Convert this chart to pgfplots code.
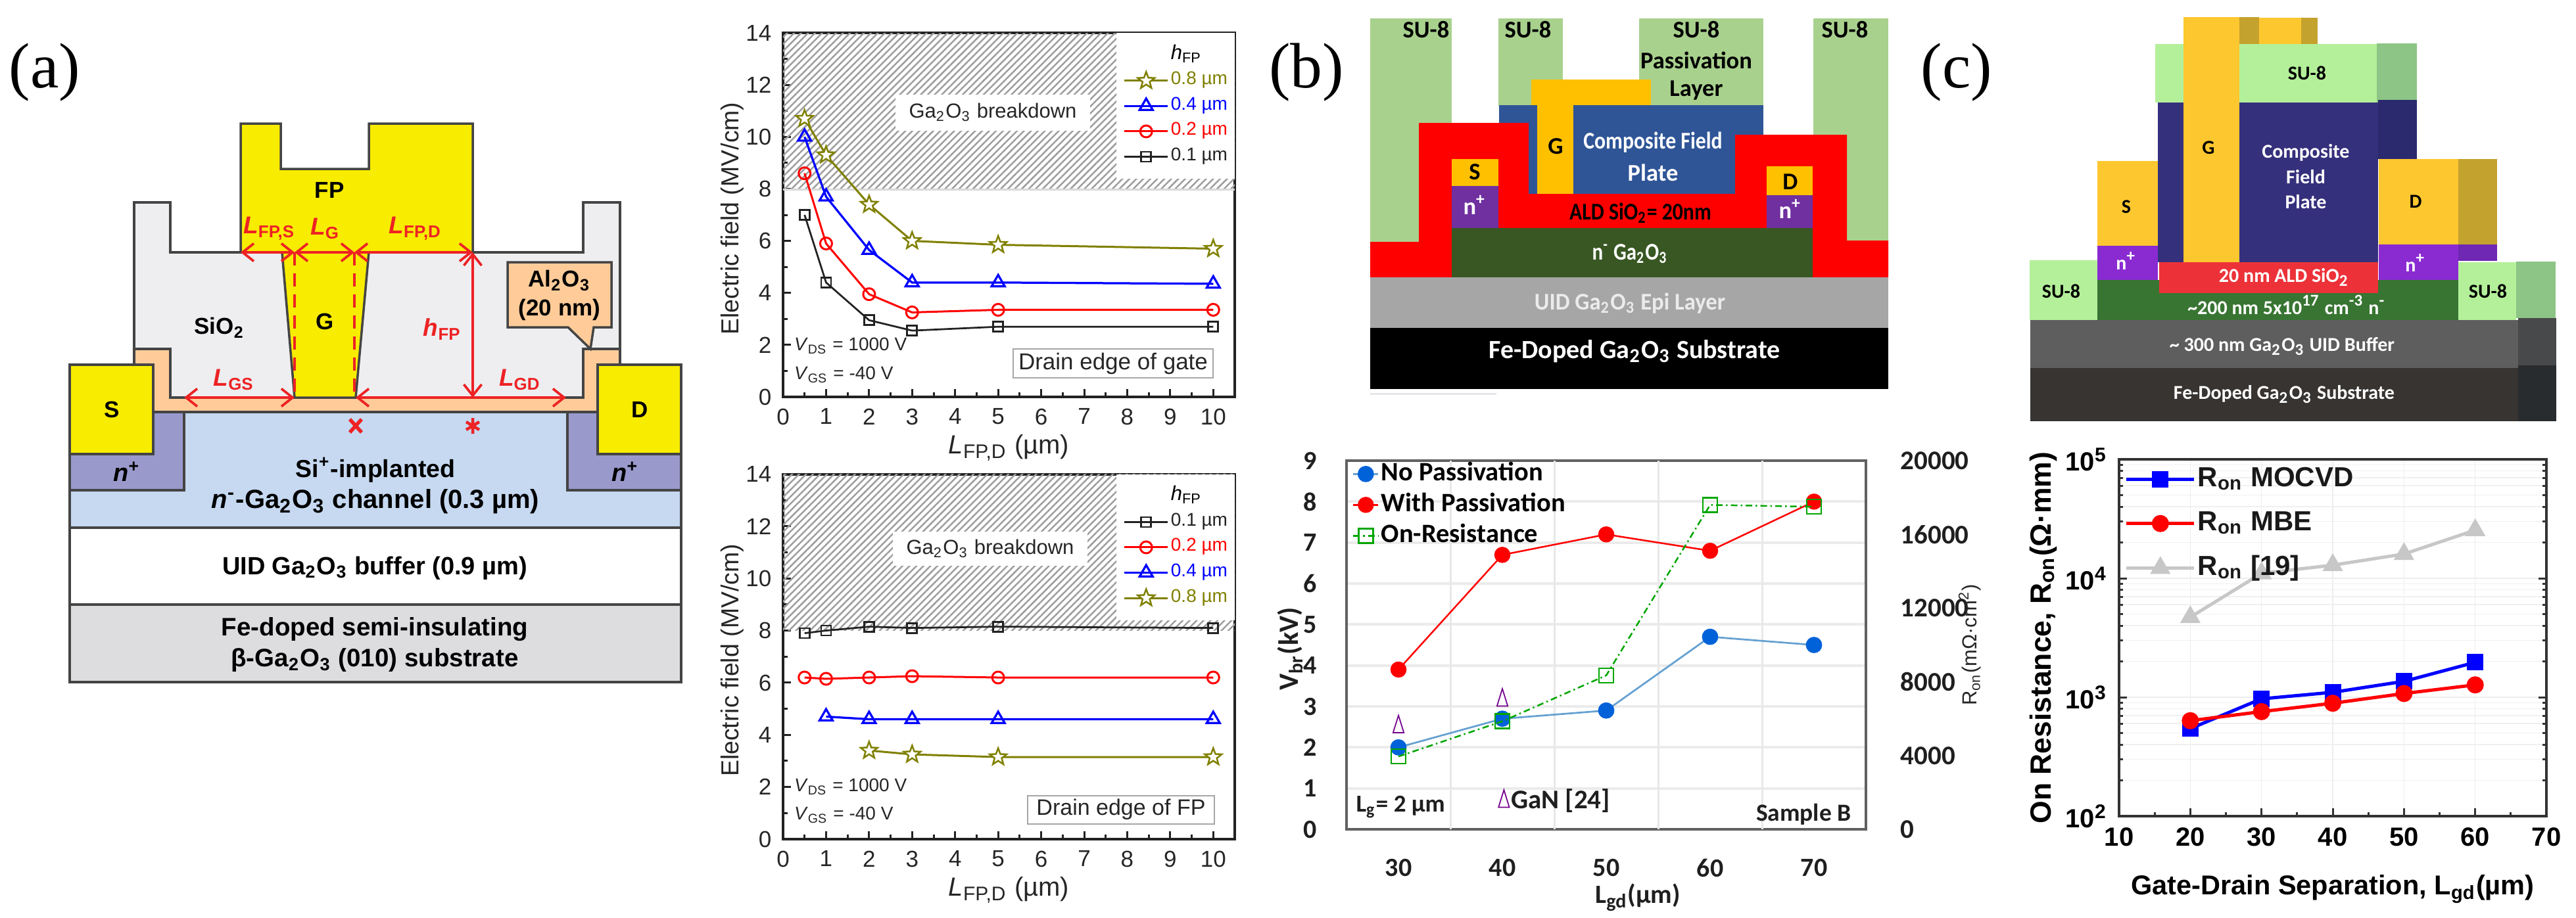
\documentclass[border=0pt]{standalone}
\usepackage{fontspec}
\usepackage{pgfplots}
\pgfplotsset{compat=1.18}
\usetikzlibrary{patterns.meta,arrows.meta}
\setmainfont{Liberation Sans}
\newfontfamily\calib{Carlito}
\newfontfamily\ser{Liberation Serif}
\newcommand\fs[1]{\fontsize{#1}{#1}\selectfont}
\newcommand\sub[1]{\textsubscript{#1}}
\newcommand\sups[1]{\textsuperscript{#1}}
\definecolor{colOl}{HTML}{808000}
\definecolor{colBl}{HTML}{0000FF}
\definecolor{colRd}{HTML}{FF0000}
\definecolor{colKk}{HTML}{222222}
\definecolor{arrRd}{HTML}{ED2224}
\definecolor{frm}{HTML}{444444}
\pgfdeclareplotmark{ostar}{%
  \pgfpathmoveto{\pgfpointpolar{90}{\pgfplotmarksize}}%
  \pgfpathlineto{\pgfpointpolar{126}{.42\pgfplotmarksize}}%
  \pgfpathlineto{\pgfpointpolar{162}{\pgfplotmarksize}}%
  \pgfpathlineto{\pgfpointpolar{198}{.42\pgfplotmarksize}}%
  \pgfpathlineto{\pgfpointpolar{234}{\pgfplotmarksize}}%
  \pgfpathlineto{\pgfpointpolar{270}{.42\pgfplotmarksize}}%
  \pgfpathlineto{\pgfpointpolar{306}{\pgfplotmarksize}}%
  \pgfpathlineto{\pgfpointpolar{342}{.42\pgfplotmarksize}}%
  \pgfpathlineto{\pgfpointpolar{18}{\pgfplotmarksize}}%
  \pgfpathlineto{\pgfpointpolar{54}{.42\pgfplotmarksize}}%
  \pgfpathclose\pgfusepathqfillstroke}
\pgfplotsset{
  /pgf/number format/assume math mode=true,
  fieldaxis/.style={
    scale only axis, axis line style={line width=.8pt,color=colKk},
    xmin=0,xmax=10.5,ymin=0,ymax=14,
    xtick={0,...,10},ytick={0,2,...,14},minor x tick num=1,minor y tick num=1,
    xtick pos=bottom,ytick pos=left,tick align=inside,
    major tick length=2.4pt,minor tick length=1.4pt,
    every tick/.style={line width=.6pt,color=colKk},
    tick label style={font=\fs{7},color=black!85},
    ylabel style={at={(axis description cs:-0.112,0.49)},anchor=center,font=\fs{7.5},color=black!85},
    xlabel style={at={(axis description cs:0.5,-0.14)},anchor=center,font=\fs{8},color=black!85},
    xlabel={\textit{L}\sub{FP,D} (µm)},ylabel={Electric field (MV/cm)},
    clip=false,
    legend cell align=left,
    legend style={draw=none,fill=none,at={(axis description cs:0.752,0.975)},anchor=north west,inner sep=0pt,font=\fs{5.6},row sep=1.1pt,nodes={inner sep=.6pt}},
    legend image code/.code={\draw[mark repeat=2,mark phase=2,##1] plot coordinates {(0pt,0pt)(6.6pt,0pt)(13.2pt,0pt)};},
  },
  s1/.style={color=colKk,line width=.55pt,mark=square,mark size=1.5pt,mark options={fill=white,solid}},
  s2/.style={color=colRd,line width=.6pt,mark=o,mark size=1.8pt,mark options={fill=white,solid}},
  s4/.style={color=colBl,line width=.65pt,mark=triangle,mark size=2.3pt,mark options={fill=white,solid}},
  s8/.style={color=colOl,line width=.6pt,mark=ostar,mark size=2.7pt,mark options={fill=white,solid,line width=.5pt}},
}
\begin{document}
\begin{tikzpicture}
\path[use as bounding box] (0,0) rectangle (783.6pt,-279.2pt);
\begin{scope}[x=0.2pt,y=-0.2pt]
% ---- panel labels
\node[font=\ser\fs{19.5},anchor=center] at (68,110) {(a)};
\node[font=\ser\fs{19.5},anchor=center] at (1987,110) {(b)};
\node[font=\ser\fs{19.5},anchor=center] at (2976,110) {(c)};
% ---- panel a schematic
\begin{scope}[line width=.7pt,draw=frm,font=\fs{7}\bfseries,color=black]
\filldraw[fill=white,draw=frm] (106,803) rectangle (1036,920);
\filldraw[fill={rgb,255:red,221;green,221;blue,224},draw=frm,line width=.9pt] (106,920) rectangle (1036,1038);
\filldraw[fill={rgb,255:red,198;green,217;blue,241},draw=frm] (106,627) rectangle (1036,803);
\filldraw[fill={rgb,255:red,153;green,153;blue,204},draw=frm] (106,627) -- (280,627) -- (280,746) -- (106,746) -- cycle;
\filldraw[fill={rgb,255:red,153;green,153;blue,204},draw=frm] (863,627) -- (1036,627) -- (1036,746) -- (863,746) -- cycle;
\filldraw[fill={rgb,255:red,238;green,238;blue,240},draw=frm] (204,605) -- (204,308) -- (259,308) -- (259,384) -- (887,384) -- (887,308) -- (943,308) -- (943,605) -- cycle;
\filldraw[fill={rgb,255:red,255;green,204;blue,153},draw=frm] (204,555) -- (204,531) -- (259,531) -- (259,605) -- (887,605) -- (887,531) -- (943,531) -- (943,555) -- (909,555) -- (909,627) -- (233,627) -- (233,555) -- cycle;
\filldraw[fill={rgb,255:red,248;green,236;blue,0},draw=frm] (106,555) rectangle (233,691);
\filldraw[fill={rgb,255:red,248;green,236;blue,0},draw=frm] (909,555) rectangle (1036,691);
\filldraw[fill={rgb,255:red,248;green,236;blue,0},draw=frm] (366,188) -- (427,188) -- (427,257) -- (561,257) -- (561,188) -- (719,188) -- (719,384) -- (561,384) -- (541,605) -- (448,605) -- (429,384) -- (366,384) -- cycle;
\filldraw[fill={rgb,255:red,255;green,204;blue,153},draw=frm] (772,399) -- (930,399) -- (930,498) -- (903,498) -- (898,531) -- (864,498) -- (772,498) -- cycle;
\node at (501,289) {FP};
\node at (494,489) {G};
\node at (334,499) {SiO\sub{2}};
\node at (170,623) {S};
\node at (973,623) {D};
\node[font=\fs{7.6}\bfseries] at (193,718) {\textit{n}\sups{+}};
\node[font=\fs{7.6}\bfseries] at (951,718) {\textit{n}\sups{+}};
\node at (851,427) {Al\sub{2}O\sub{3}};
\node at (851,471) {(20 nm)};
\node[font=\fs{7.5}\bfseries] at (571,715) {Si\sups{+}-implanted};
\node[font=\fs{8}\bfseries] at (571,763) {\textit{n}\sups{-}-Ga\sub{2}O\sub{3} channel (0.3 µm)};
\node[font=\fs{7.6}\bfseries] at (570,865) {UID Ga\sub{2}O\sub{3} buffer (0.9 µm)};
\node[font=\fs{7.7}\bfseries] at (570,958) {Fe-doped semi-insulating};
\node[font=\fs{7.7}\bfseries] at (570,1005) {β-Ga\sub{2}O\sub{3} (010) substrate};
\end{scope}
\begin{scope}[arrRd,line width=.75pt,font=\fs{7.4}\bfseries,>={Straight Barb[length=3.4pt,width=5.4pt]}]
\draw[dashed,dash pattern=on 4pt off 2.4pt] (448,384) -- (448,605);
\draw[dashed,dash pattern=on 4pt off 2.4pt] (539,384) -- (539,605);
\draw[<->] (366,384) -- (448,384);
\draw[<->] (448,384) -- (539,384);
\draw[<->] (539,384) -- (719,384);
\draw[<->] (719,384) -- (719,605);
\draw[<->] (280,605) -- (448,605);
\draw[<->] (541,605) -- (861,605);
\node[anchor=center] at (410,348) {\textit{L}\sub{FP,S}};
\node at (495,348) {\textit{L}\sub{G}};
\node at (632,348) {\textit{L}\sub{FP,D}};
\node at (673,501) {\textit{h}\sub{FP}};
\node at (356,578) {\textit{L}\sub{GS}};
\node at (791,578) {\textit{L}\sub{GD}};
\draw[line width=1.1pt] (532,638)--(550,658) (550,638)--(532,658);
\draw[line width=.9pt] (719,636)--(719,660) (709,642)--(729,654) (729,642)--(709,654);
\end{scope}
% ---- panel b schematic
\begin{scope}[font=\calib\fs{7.3}\bfseries]
\fill[fill={rgb,255:red,169;green,209;blue,142}] (2084,28) rectangle (2208,368);
\fill[fill={rgb,255:red,169;green,209;blue,142}] (2279,28) rectangle (2377,161);
\fill[fill={rgb,255:red,169;green,209;blue,142}] (2493,28) rectangle (2682,161);
\fill[fill={rgb,255:red,169;green,209;blue,142}] (2758,28) rectangle (2872,368);
\fill[fill={rgb,255:red,47;green,85;blue,151}] (2280,160) rectangle (2682,295);
\fill[fill={rgb,255:red,255;green,192;blue,0}] (2329,121) rectangle (2511,160);
\fill[fill={rgb,255:red,255;green,192;blue,0}] (2338,160) rectangle (2393,295);
\fill[colRd] (2084,368) -- (2158,368) -- (2158,187) -- (2325,187) -- (2325,295) -- (2639,295) -- (2639,205) -- (2809,205) -- (2809,366) -- (2872,366) -- (2872,422) -- (2084,422) -- cycle;
\fill[fill={rgb,255:red,255;green,192;blue,0}] (2208,242) rectangle (2279,283);
\fill[fill={rgb,255:red,112;green,48;blue,160}] (2208,283) rectangle (2279,347);
\fill[fill={rgb,255:red,255;green,192;blue,0}] (2687,253) rectangle (2757,297);
\fill[fill={rgb,255:red,112;green,48;blue,160}] (2687,297) rectangle (2757,347);
\fill[fill={rgb,255:red,56;green,87;blue,35}] (2208,347) rectangle (2757,422);
\fill[fill={rgb,255:red,166;green,166;blue,166}] (2084,422) rectangle (2872,499);
\fill[black] (2084,499) rectangle (2872,592);
\fill[blue!10!gray!18] (2084,598) rectangle (2276,601);
\node at (2169,45) {SU-8};
\node at (2324,45) {SU-8};
\node at (2580,45) {SU-8};
\node at (2806,45) {SU-8};
\node at (2580,92) {Passivation};
\node at (2580,138) {Layer};
\node at (2366,223) {G};
\node[white,xscale=.87] at (2514,217) {Composite Field};
\node[white] at (2514,263) {Plate};
\node at (2243,262) {S};
\node at (2723,277) {D};
\node[white] at (2243,312) {n\sups{+}};
\node[white] at (2723,318) {n\sups{+}};
\node[xscale=.87] at (2495,324) {ALD SiO\sub{2}= 20nm};
\node[white,xscale=.85] at (2479,386) {n\sups{-} Ga\sub{2}O\sub{3}};
\node[white!92!black,xscale=.95] at (2479,462) {UID Ga\sub{2}O\sub{3} Epi Layer};
\node[white,font=\calib\fs{8}\bfseries] at (2486,535) {Fe-Doped Ga\sub{2}O\sub{3} Substrate};
\end{scope}
% ---- panel c schematic
\begin{scope}[font=\calib\fs{6}\bfseries]
\definecolor{gd}{HTML}{FDC72F}\definecolor{gdd}{HTML}{C4A22E}
\definecolor{su}{HTML}{B4F09A}\definecolor{sud}{HTML}{8CC585}
\definecolor{nv}{HTML}{35307C}\definecolor{nvd}{HTML}{2C2A6E}
\definecolor{pu}{HTML}{8A2BD2}\definecolor{pud}{HTML}{6E28B4}
\fill[gd] (3436,27) rectangle (3500,67);
\fill[gdd] (3406,26) rectangle (3436,67);
\fill[gdd] (3500,27) rectangle (3525,67);
\fill[sud] (3615,66) rectangle (3676,156);
\fill[nvd] (3617,152) rectangle (3676,242);
\fill[su] (3278,67) rectangle (3615,156);
\fill[nv] (3282,156) rectangle (3617,399);
\fill[gd] (3321,26) rectangle (3406,399);
\fill[gd] (3190,245) rectangle (3282,374);
\fill[pu] (3190,374) rectangle (3282,426);
\fill[gdd] (3739,242) rectangle (3798,372);
\fill[pud] (3739,372) rectangle (3798,397);
\fill[gd] (3618,242) rectangle (3739,372);
\fill[pu] (3618,372) rectangle (3739,426);
\fill[fill={rgb,255:red,56;green,117;blue,50}] (3190,426) rectangle (3739,487);
\fill[fill={rgb,255:red,236;green,50;blue,56}] (3284,399) rectangle (3617,446);
\fill[su] (3087,396) rectangle (3190,487);
\fill[su] (3739,399) rectangle (3827,487);
\fill[sud] (3827,398) rectangle (3887,484);
\fill[fill={rgb,255:red,95;green,94;blue,94}] (3088,487) rectangle (3830,560);
\fill[fill={rgb,255:red,72;green,73;blue,75}] (3830,484) rectangle (3888,556);
\fill[fill={rgb,255:red,55;green,52;blue,50}] (3088,560) rectangle (3830,641);
\fill[fill={rgb,255:red,41;green,44;blue,46}] (3830,556) rectangle (3888,641);
\node at (3509,111) {SU-8};
\node at (3359,225) {G};
\node[white] at (3507,232) {Composite};
\node[white] at (3507,269) {Field};
\node[white] at (3507,307) {Plate};
\node at (3234,315) {S};
\node at (3674,307) {D};
\node[white] at (3234,397) {n\sups{+}};
\node[white] at (3674,400) {n\sups{+}};
\node[white] at (3474,422) {20 nm ALD SiO\sub{2}};
\node[white] at (3478,464) {\textasciitilde200 nm 5x10\sups{17} cm\sups{-3} n\sups{-}};
\node at (3135,443) {SU-8};
\node at (3784,443) {SU-8};
\node[white] at (3471,527) {\textasciitilde\ 300 nm Ga\sub{2}O\sub{3} UID Buffer};
\node[white] at (3474,600) {Fe-Doped Ga\sub{2}O\sub{3} Substrate};
\end{scope}
\end{scope}
% ---- field chart top
\begin{axis}[fieldaxis,at={(238.2pt,-120.8pt)},anchor=south west,width=137.4pt,height=110.8pt]
\fill[pattern={Lines[angle=45,distance=1.5pt,line width=.5pt]},pattern color=black!38] (axis cs:0,8) rectangle (axis cs:10.5,14);
\fill[white] (axis cs:7.75,8.4) rectangle (axis cs:10.5,14);
\draw[black!15,line width=.5pt] (axis cs:0,7.97) -- (axis cs:10.5,7.97);
\addlegendimage{empty legend}\addlegendentry{\fs{6.2}\textit{h}\sub{FP}}
\addplot[s8] coordinates {(0.5,10.7)(1,9.3)(2,7.4)(3,6.0)(5,5.85)(10,5.7)};
\addlegendentry{\textcolor{colOl}{0.8 µm}}
\addplot[s4] coordinates {(0.5,10.0)(1,7.7)(2,5.65)(3,4.4)(5,4.4)(10,4.35)};
\addlegendentry{\textcolor{colBl}{0.4 µm}}
\addplot[s2] coordinates {(0.5,8.6)(1,5.9)(2,3.95)(3,3.25)(5,3.35)(10,3.35)};
\addlegendentry{\textcolor{colRd}{0.2 µm}}
\addplot[s1] coordinates {(0.5,7.0)(1,4.4)(2,2.95)(3,2.55)(5,2.7)(10,2.7)};
\addlegendentry{\textcolor{colKk}{0.1 µm}}
\end{axis}
% ---- field chart bottom
\begin{axis}[fieldaxis,at={(238.2pt,-255.4pt)},anchor=south west,width=137.4pt,height=111.1pt]
\fill[pattern={Lines[angle=45,distance=1.5pt,line width=.5pt]},pattern color=black!38] (axis cs:0,8) rectangle (axis cs:10.5,14);
\fill[white] (axis cs:7.75,8.4) rectangle (axis cs:10.5,14);
\addlegendimage{empty legend}\addlegendentry{\fs{6.2}\textit{h}\sub{FP}}
\addplot[s1] coordinates {(0.5,7.9)(1,8.0)(2,8.15)(3,8.1)(5,8.15)(10,8.1)};
\addlegendentry{\textcolor{colKk}{0.1 µm}}
\addplot[s2] coordinates {(0.5,6.2)(1,6.15)(2,6.2)(3,6.25)(5,6.2)(10,6.2)};
\addlegendentry{\textcolor{colRd}{0.2 µm}}
\addplot[s4] coordinates {(1,4.7)(2,4.6)(3,4.6)(5,4.6)(10,4.6)};
\addlegendentry{\textcolor{colBl}{0.4 µm}}
\addplot[s8] coordinates {(2,3.4)(3,3.25)(5,3.15)(10,3.15)};
\addlegendentry{\textcolor{colOl}{0.8 µm}}
\end{axis}
% ---- chart b
\begin{axis}[scale only axis,at={(409.6pt,-252.4pt)},anchor=south west,width=158pt,height=112.2pt,
  xmin=25,xmax=75,ymin=0,ymax=9,xtick={30,40,50,60,70},ytick={0,...,9},
  axis line style={line width=.7pt,color=black!62},
  extra x ticks={35,45,55,65},extra x tick labels={},
  extra x tick style={grid=major,major grid style={line width=.6pt,color=black!9}},
  ymajorgrids,major grid style={line width=.8pt,color=black!8},
  major tick length=0pt,xtick pos=bottom,ytick pos=left,
  tick label style={font=\calib\fs{8}\bfseries,color=black!88},
  yticklabel style={xshift=-5.5pt},xticklabel style={yshift=-5.5pt},
  xlabel={L\sub{gd}(µm)},ylabel={V\sub{br}(kV)},
  xlabel style={at={(axis description cs:0.561,-0.185)},anchor=center,font=\calib\fs{8}\bfseries,color=black!88},
  ylabel style={at={(axis description cs:-0.109,0.49)},anchor=center,font=\calib\fs{8.5}\bfseries,color=black!88},
  clip=false,legend cell align=left,
  legend style={draw=none,fill=none,at={(axis description cs:0.01,1.003)},anchor=north west,inner sep=0pt,font=\calib\fs{8.1}\bfseries,row sep=1pt,nodes={inner sep=.6pt,text=black}},
  legend image code/.code={\draw[mark repeat=2,mark phase=2,#1] plot coordinates {(0pt,0pt)(3.8pt,0pt)(7.6pt,0pt)};},
  ]
\addplot[color=blue!45!cyan!70!black!60!white,line width=.55pt,mark=*,mark size=2.2pt,mark options={fill=blue!55!cyan!85!black,draw=blue!55!cyan!85!black}] coordinates {(30,2.0)(40,2.7)(50,2.9)(60,4.7)(70,4.5)};
\addlegendentry{No Passivation}
\addplot[color=colRd,line width=.5pt,mark=*,mark size=2.2pt,mark options={fill=colRd,draw=colRd}] coordinates {(30,3.9)(40,6.7)(50,7.2)(60,6.8)(70,8.0)};
\addlegendentry{With Passivation}
\addlegendimage{color=green!65!black,line width=.5pt,dash pattern=on 2pt off 1pt on .5pt off 1pt,mark=square,mark size=2.2pt,mark options={solid}}
\addlegendentry{On-Resistance}
\addplot[only marks,color=purple!60!blue,mark=triangle,mark size=2.7pt,mark options={xscale=.7,yscale=1.3,line width=.35pt}] coordinates {(30,2.5)(40,3.15)(40.15,0.68)};
\node[anchor=center,font=\calib\fs{7.4}\bfseries,color=black!88] at (axis cs:30.2,0.55) {L\sub{g}= 2 µm};
\node[anchor=center,font=\calib\fs{8.2}\bfseries,color=black!88] at (axis cs:45.6,0.69) {GaN [24]};
\node[anchor=center,font=\calib\fs{7.5}\bfseries,color=black!88] at (axis cs:69.0,0.37) {Sample B};
\end{axis}
\begin{axis}[scale only axis,at={(409.6pt,-252.4pt)},anchor=south west,width=158pt,height=112.2pt,
  xmin=25,xmax=75,ymin=0,ymax=20000,ytick={0,4000,8000,12000,16000,20000},
  axis x line=none,axis y line=right,axis line style={draw=none},major tick length=0pt,
  scaled y ticks=false,
  yticklabel style={/pgf/number format/1000 sep={},font=\calib\fs{8.2}\bfseries,color=black!88,anchor=west,xshift=7pt},
  ylabel={R\sub{on}(mΩ·cm\sups{2})},
  ylabel style={at={(axis description cs:1.2,0.5)},anchor=center,font=\fs{6.2},color=black!85},
  clip=false]
\addplot[color=green!65!black,line width=.5pt,dash pattern=on 2pt off 1pt on .5pt off 1pt,mark=square,mark size=2.2pt,mark options={solid}] coordinates {(30,3950)(40,5860)(50,8350)(60,17600)(70,17500)};
\end{axis}
% ---- chart c
\begin{axis}[scale only axis,at={(644.6pt,-248.4pt)},anchor=south west,width=130pt,height=108.6pt,
  ymode=log,xmin=10,xmax=70,ymin=100,ymax=100000,
  xtick={10,20,...,70},ytick={100,1000,10000,100000},
  yticklabels={10\sups{2},10\sups{3},10\sups{4},10\sups{5}},
  minor x tick num=1,
  minor ytick={200,300,400,500,600,700,800,900,2000,3000,4000,5000,6000,7000,8000,9000,20000,30000,40000,50000,60000,70000,80000,90000},
  xmajorgrids,ymajorgrids,yminorgrids,grid style={line width=.3pt,color=black!7},minor grid style={line width=.3pt,color=black!6},
  axis line style={line width=.9pt,color=black!80},tick align=inside,
  xtick pos=bottom,major tick length=2.4pt,minor tick length=1.2pt,
  every tick/.style={line width=.6pt,color=black!80},
  tick label style={font=\fs{8}\bfseries},
  xlabel={Gate-Drain Separation, L\sub{gd}(µm)},
  ylabel={On Resistance, R\sub{on}(Ω·mm)},
  xlabel style={at={(axis description cs:0.5,-0.205)},anchor=center,font=\fs{8.3}\bfseries},
  ylabel style={at={(axis description cs:-0.177,0.5)},anchor=center,font=\fs{8.9}\bfseries},
  clip=false,legend cell align=left,
  legend style={draw=none,fill=none,at={(axis description cs:0.012,0.985)},anchor=north west,inner sep=0pt,font=\fs{8.4}\bfseries,row sep=4.9pt,nodes={inner sep=.6pt,text=black!90}},
  legend image code/.code={\draw[mark repeat=2,mark phase=2,#1] plot coordinates {(0pt,0pt)(10.3pt,0pt)(20.6pt,0pt)};},
  ]
\addplot[color=colBl,line width=1pt,mark=square*,mark size=2pt,mark options={fill=colBl}] coordinates {(20,545)(30,970)(40,1100)(50,1360)(60,1965)};
\addlegendentry{R\sub{on} MOCVD}
\addplot[color=colRd,line width=1pt,mark=*,mark size=2.1pt,mark options={fill=colRd}] coordinates {(20,635)(30,757)(40,890)(50,1075)(60,1270)};
\addlegendentry{R\sub{on} MBE}
\addplot[color=black!22,line width=1pt,mark=triangle*,mark size=2.6pt,mark options={fill=black!22}] coordinates {(20,4710)(30,11000)(40,12900)(50,16000)(60,25400)};
\addlegendentry{R\sub{on} [19]}
\end{axis}
% ---- annotations over chart a
\begin{scope}[x=0.2pt,y=-0.2pt]
\node[fill=white,inner sep=0pt,minimum width=59pt,minimum height=11pt,font=\fs{6.2},text=black!85] at (1510,171) {Ga\sub{2}O\sub{3} breakdown};
\node[fill=white,inner sep=0pt,minimum width=59pt,minimum height=10.4pt,font=\fs{6.2},text=black!85] at (1506,835) {Ga\sub{2}O\sub{3} breakdown};
\node[draw=black!35,line width=.4pt,inner sep=0pt,minimum width=60.6pt,minimum height=8.8pt,font=\fs{7},text=black!85] at (1693,553) {Drain edge of gate};
\node[draw=black!35,line width=.4pt,inner sep=0pt,minimum width=56.6pt,minimum height=8.6pt,font=\fs{6.8},text=black!85] at (1705,1232) {Drain edge of FP};
\foreach \y/\a/\b in {526/DS/1000,1197/DS/1000}{\node[anchor=west,font=\fs{5.6},text=black!85,inner sep=0pt] at (1207,\y) {\textit{V}\sub{\a} = \b\ V};}
\foreach \y in {570,1240}{\node[anchor=west,font=\fs{5.6},text=black!85,inner sep=0pt] at (1207,\y) {\textit{V}\sub{GS} = -40 V};}
\end{scope}
\end{tikzpicture}
\end{document}
